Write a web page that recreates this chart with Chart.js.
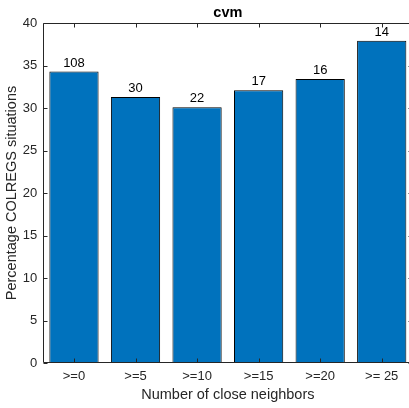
<!DOCTYPE html>
<html>
<head>
<meta charset="utf-8">
<script src="https://cdn.jsdelivr.net/npm/chart.js@4"></script>
<style>
html,body{margin:0;padding:0;background:#fff;overflow:hidden;}
#wrap{width:414px;height:408px;}
</style>
</head>
<body>
<div id="wrap"><canvas id="c" width="414" height="408"></canvas></div>
<script>
const categories = [">=0", ">=5", ">=10", ">=15", ">=20", ">= 25"];
const percentages = [34.3, 31.3, 30.1, 32.1, 33.4, 37.9];
const counts = [108, 30, 22, 17, 16, 14];
const yTicks = [0, 5, 10, 15, 20, 25, 30, 35, 40];
const titleText = "cvm";
const xLabel = "Number of close neighbors";
const yLabel = "Percentage COLREGS situations";

const axisColor = '#262626';
const FONT = '"Liberation Sans", Arial, Helvetica, sans-serif';

const boxPlugin = {
  id: 'boxPlugin',
  afterDatasetsDraw(chart) {
    const ctx = chart.ctx;
    const a = chart.chartArea;
    const xs = chart.scales.x, ys = chart.scales.y;
    ctx.save();
    // value labels
    const meta = chart.getDatasetMeta(0);
    ctx.fillStyle = '#000';
    ctx.font = '13px ' + FONT;
    ctx.textAlign = 'center';
    ctx.textBaseline = 'bottom';
    meta.data.forEach((bar, i) => {
      ctx.fillText(String(counts[i]), bar.x, bar.y - 2);
    });
    // box
    ctx.strokeStyle = axisColor;
    ctx.lineWidth = 1;
    const L = Math.round(a.left) + 0.5, R = Math.round(a.right) - 0.5;
    const T = Math.round(a.top) + 0.5, B = Math.round(a.bottom) - 0.5;
    ctx.beginPath();
    ctx.moveTo(L, T); ctx.lineTo(R, T); ctx.lineTo(R, B); ctx.lineTo(L, B); ctx.closePath();
    ctx.stroke();
    // ticks
    const tl = 4;
    ctx.beginPath();
    categories.forEach((c, i) => {
      const x = Math.round(xs.getPixelForValue(i)) + 0.5;
      ctx.moveTo(x, B); ctx.lineTo(x, B - tl);
      ctx.moveTo(x, T); ctx.lineTo(x, T + tl);
    });
    yTicks.forEach(v => {
      const y = Math.round(ys.getPixelForValue(v)) + 0.5;
      ctx.moveTo(L, y); ctx.lineTo(L + tl, y);
      ctx.moveTo(R, y); ctx.lineTo(R - tl, y);
    });
    ctx.stroke();
    ctx.restore();
  }
};

new Chart(document.getElementById('c'), {
  type: 'bar',
  data: {
    labels: categories,
    datasets: [{
      data: percentages,
      backgroundColor: '#0072BD',
      borderColor: '#000000',
      borderWidth: 1,
      borderSkipped: false,
      barPercentage: 0.8,
      categoryPercentage: 1.0
    }]
  },
  options: {
    responsive: false,
    animation: false,
    devicePixelRatio: 1,
    layout: { padding: { left: 0, right: 1.5, top: 0, bottom: 0 } },
    plugins: {
      legend: { display: false },
      tooltip: { enabled: false },
      title: {
        display: true,
        text: titleText,
        fullSize: false,
        color: '#000',
        font: { family: FONT, size: 14.5, weight: 'bold', lineHeight: 1.2 },
        padding: { top: 3.8, bottom: 1.8 }
      }
    },
    scales: {
      x: {
        type: 'category',
        grid: { display: false, drawTicks: false },
        border: { display: false },
        ticks: { color: axisColor, font: { family: FONT, size: 13 }, padding: 6, maxRotation: 0, autoSkip: false },
        title: {
          display: true, text: xLabel, color: axisColor,
          font: { family: FONT, size: 14.5, lineHeight: 1.2 },
          padding: { top: 0, bottom: 4.3 }
        },
        afterFit(scale) { scale.height = 45; }
      },
      y: {
        min: 0, max: 40,
        grid: { display: false, drawTicks: false },
        border: { display: false },
        afterBuildTicks(scale) { scale.ticks = yTicks.map(v => ({ value: v })); },
        ticks: { color: axisColor, font: { family: FONT, size: 13 }, padding: 6 },
        title: {
          display: true, text: yLabel, color: axisColor,
          font: { family: FONT, size: 14.5, lineHeight: 1.2 },
          padding: { top: 3.3, bottom: 0 }
        },
        afterFit(scale) { scale.width = 43.2; }
      }
    }
  },
  plugins: [boxPlugin]
});
</script>
</body>
</html>
